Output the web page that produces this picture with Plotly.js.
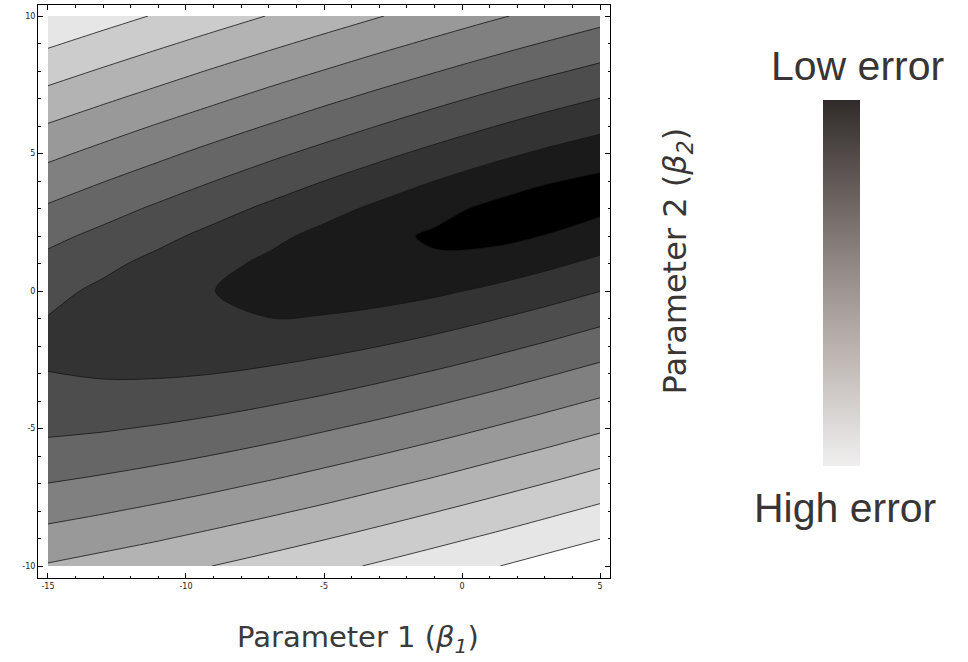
<!DOCTYPE html>
<html>
<head>
<meta charset="utf-8">
<script src="https://cdn.plot.ly/plotly-3.0.1.min.js"></script>
<style>
  html, body { margin: 0; padding: 0; background: #ffffff; }
  #chart { width: 968px; height: 662px; }
</style>
</head>
<body>
<div id="chart"></div>
<script>
// Parameter 1 (beta1) sample positions (columns)
const beta1 = [-15, -13, -11, -9, -7, -5, -3, -1, 1, 3, 5];
// Parameter 2 (beta2) sample positions (rows)
const beta2 = [-10, -9, -8, -7, -6, -5, -4, -3, -2, -1, 0, 1, 2, 3, 4, 5, 6, 7, 8, 9, 10];
// Error surface, one row per beta2 value (in contour-level units)
const errorGrid = [
  [7.08, 7.37, 7.68, 8.01, 8.36, 8.73, 9.12, 9.51, 9.92, 10.34, 10.76],
  [6.37, 6.64, 6.93, 7.26, 7.60, 7.96, 8.34, 8.74, 9.14, 9.56, 9.98],
  [5.67, 5.92, 6.20, 6.50, 6.84, 7.19, 7.57, 7.96, 8.36, 8.78, 9.21],
  [5.01, 5.22, 5.47, 5.76, 6.08, 6.43, 6.80, 7.18, 7.59, 8.00, 8.43],
  [4.38, 4.55, 4.77, 5.03, 5.33, 5.67, 6.03, 6.41, 6.81, 7.22, 7.65],
  [3.82, 3.92, 4.09, 4.31, 4.59, 4.91, 5.26, 5.63, 6.03, 6.44, 6.87],
  [3.34, 3.36, 3.46, 3.63, 3.87, 4.16, 4.49, 4.86, 5.25, 5.67, 6.09],
  [3.01, 2.91, 2.90, 2.99, 3.17, 3.43, 3.74, 4.09, 4.48, 4.89, 5.32],
  [2.88, 2.64, 2.49, 2.45, 2.53, 2.72, 2.99, 3.32, 3.70, 4.11, 4.54],
  [2.97, 2.60, 2.30, 2.09, 2.01, 2.07, 2.27, 2.56, 2.93, 3.33, 3.77],
  [3.26, 2.81, 2.39, 2.01, 1.72, 1.57, 1.61, 1.83, 2.16, 2.56, 2.99],
  [3.71, 3.22, 2.73, 2.26, 1.82, 1.43, 1.17, 1.16, 1.40, 1.78, 2.23],
  [4.26, 3.75, 3.25, 2.74, 2.24, 1.74, 1.27, 0.86, 0.72, 1.02, 1.47],
  [4.88, 4.37, 3.85, 3.34, 2.83, 2.32, 1.81, 1.30, 0.81, 0.47, 0.79],
  [5.54, 5.03, 4.52, 4.01, 3.50, 3.00, 2.50, 2.00, 1.52, 1.08, 0.79],
  [6.23, 5.72, 5.22, 4.71, 4.21, 3.72, 3.23, 2.75, 2.28, 1.85, 1.47],
  [6.93, 6.43, 5.93, 5.44, 4.95, 4.46, 3.98, 3.51, 3.05, 2.62, 2.23],
  [7.66, 7.16, 6.67, 6.18, 5.69, 5.21, 4.74, 4.27, 3.82, 3.39, 2.99],
  [8.39, 7.90, 7.41, 6.92, 6.44, 5.97, 5.50, 5.05, 4.60, 4.17, 3.77],
  [9.13, 8.64, 8.16, 7.68, 7.20, 6.73, 6.27, 5.82, 5.38, 4.95, 4.54],
  [9.88, 9.39, 8.91, 8.44, 7.97, 7.50, 7.04, 6.59, 6.15, 5.73, 5.32]
];
// Contour levels (10 lines, 11 shaded bands)
const levelStart = 1;
const levelEnd = 10;
const levelStep = 1;
// Tick labels
const xTickVals = [-15, -10, -5, 0, 5];
const xTickText = ['-15', '-10', '-5', '0', '5'];
const yTickVals = [-10, -5, 0, 5, 10];
const yTickText = ['-10', '-5', '0', '5', '10'];
// Error scale (high error = 0 at bottom, low error = 1 at top)
const errorScale = [0, 1];

const contourTrace = {
  type: 'contour',
  x: beta1,
  y: beta2,
  z: errorGrid,
  autocontour: false,
  contours: { start: levelStart, end: levelEnd, size: levelStep, coloring: 'fill', showlines: true },
  colorscale: [[0, '#000000'], [1, '#ffffff']],
  line: { color: '#151515', width: 0.8, smoothing: 1 },
  showscale: false,
  hoverinfo: 'skip'
};

const scaleTrace = {
  type: 'scatter',
  mode: 'markers',
  x: [beta1[0], beta1[0]],
  y: [beta2[0], beta2[0]],
  hoverinfo: 'skip',
  showlegend: false,
  marker: {
    color: errorScale,
    cmin: errorScale[0],
    cmax: errorScale[1],
    opacity: 0,
    size: 1,
    colorscale: [
      [0, '#f0efef'],
      [0.25, '#c6c0bd'],
      [0.5, '#9a928e'],
      [0.75, '#675f5c'],
      [1, '#302b2a']
    ],
    showscale: true,
    colorbar: {
      thickness: 37, thicknessmode: 'pixels',
      len: 366, lenmode: 'pixels',
      x: 823 / 968, xref: 'container', xanchor: 'left',
      y: 1 - 116 / 662, yref: 'container', yanchor: 'top',
      xpad: 0, ypad: 0,
      outlinewidth: 0,
      showticklabels: false,
      ticks: ''
    }
  }
};

const axisCommon = {
  tickmode: 'array',
  ticks: 'inside',
  ticklen: 5,
  tickwidth: 1,
  tickcolor: '#000000',
  showline: true,
  linecolor: '#000000',
  linewidth: 1,
  mirror: 'allticks',
  showgrid: false,
  zeroline: false,
  fixedrange: true,
  tickfont: { family: 'DejaVu Sans', size: 8, color: '#222222' },
  minor: { tickmode: 'linear', tick0: 0, dtick: 1, ticks: 'inside', ticklen: 2.5, tickwidth: 1, tickcolor: '#000000', showgrid: false }
};

const layout = {
  width: 968,
  height: 662,
  margin: { l: 38, r: 358, t: 5, b: 84, pad: 0 },
  paper_bgcolor: '#ffffff',
  plot_bgcolor: '#ffffff',
  showlegend: false,
  xaxis: Object.assign({}, axisCommon, { range: [-15.36, 5.36], tickvals: xTickVals, ticktext: xTickText }),
  yaxis: Object.assign({}, axisCommon, { range: [-10.436, 10.4], tickvals: yTickVals, ticktext: yTickText }),
  annotations: [
    {
      text: 'Low error', xref: 'paper', yref: 'paper', x: 1.4327, y: 0.8944,
      xanchor: 'center', yanchor: 'middle', showarrow: false,
      font: { family: 'Liberation Sans, Arial, sans-serif', size: 41, color: '#3a3535' }
    },
    {
      text: 'High error', xref: 'paper', yref: 'paper', x: 1.4117, y: 0.1230,
      xanchor: 'center', yanchor: 'middle', showarrow: false,
      font: { family: 'Liberation Sans, Arial, sans-serif', size: 41, color: '#3a3535' }
    },
    {
      text: 'Parameter 2 (<i>β</i><sub><i>2</i></sub>)', xref: 'paper', yref: 'paper',
      x: 1.1171, y: 0.5541, textangle: -90,
      xanchor: 'center', yanchor: 'middle', showarrow: false,
      font: { family: 'DejaVu Sans', size: 32, color: '#3a3535' }
    },
    {
      text: 'Parameter 1 (<i>β</i><sub><i>1</i></sub>)', xref: 'paper', yref: 'paper',
      x: 0.5586, y: -0.1065,
      xanchor: 'center', yanchor: 'middle', showarrow: false,
      font: { family: 'DejaVu Sans', size: 29, color: '#3a3a3a' }
    }
  ]
};

Plotly.newPlot('chart', [contourTrace, scaleTrace], layout, { displayModeBar: false, staticPlot: true });
</script>
</body>
</html>
